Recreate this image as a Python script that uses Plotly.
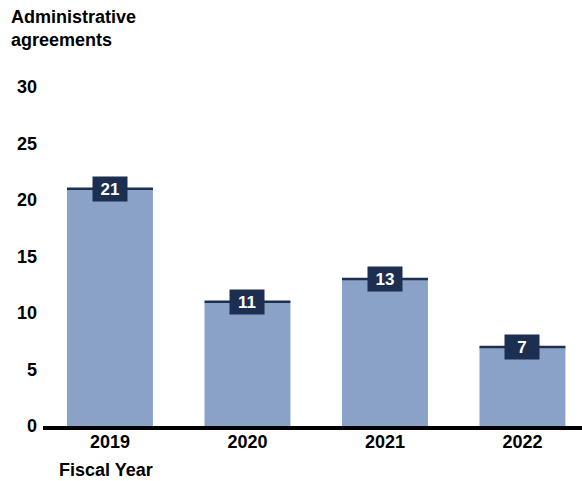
import plotly.graph_objects as go

years = ["2019", "2020", "2021", "2022"]
agreements = [21, 11, 13, 7]
y_ticks = [0, 5, 10, 15, 20, 25, 30]

BAR = "#8aa2c7"
NAVY = "#1c2f50"
FONT = "Liberation Sans, Arial, sans-serif"

W, H = 582, 481
ML, MR, MT, MB = 43, 0, 87, 55
plot_w = W - ML - MR
plot_h = H - MT - MB
X_RANGE = [-0.487, 3.433]
BAR_W = 0.625
bar_px = BAR_W * plot_w / (X_RANGE[1] - X_RANGE[0])

fig = go.Figure()
fig.add_trace(go.Bar(
    x=years, y=agreements, width=BAR_W,
    marker=dict(color=BAR, line=dict(width=0)),
    hoverinfo="skip",
))
# dark line on top of each bar (line-ew symbol length = 1.4 * size)
fig.add_trace(go.Scatter(
    x=years, y=agreements, mode="markers",
    marker=dict(symbol="line-ew", size=bar_px / 1.4, line=dict(color=NAVY, width=2.5)),
    hoverinfo="skip", cliponaxis=False,
))

annotations = []
for i, v in enumerate(agreements):
    annotations.append(dict(
        x=i, y=v, xref="x", yref="y", text=str(v),
        showarrow=False,
        font=dict(family=FONT, size=17, color="white", weight="bold"),
        bgcolor=NAVY, width=30, height=20, borderpad=2,
        xanchor="center", yanchor="middle",
    ))

annotations.append(dict(
    text="Administrative<br>agreements", xref="paper", yref="paper",
    x=(9 - ML) / plot_w, y=1 + (MT - 5) / plot_h,
    showarrow=False, align="left", xanchor="left", yanchor="top",
    font=dict(family=FONT, size=18, color="black", weight="bold"),
))
annotations.append(dict(
    text="Fiscal Year", xref="paper", yref="paper",
    x=(57 - ML) / plot_w, y=-(470 - (H - MB)) / plot_h,
    showarrow=False, xanchor="left", yanchor="middle",
    font=dict(family=FONT, size=18, color="black", weight="bold"),
))

fig.update_layout(
    width=W, height=H,
    margin=dict(l=ML, r=MR, t=MT, b=MB),
    paper_bgcolor="white", plot_bgcolor="white",
    showlegend=False,
    font=dict(family=FONT, size=18, color="black"),
    annotations=annotations,
)
fig.update_xaxes(
    type="category", range=X_RANGE,
    showline=True, linecolor="black", linewidth=4,
    showgrid=False, ticks="", ticklabelstandoff=-4,
    tickfont=dict(family=FONT, size=18, color="black", weight="bold"),
)
fig.update_yaxes(
    range=[0, 30], tickvals=y_ticks, showgrid=False, zeroline=False, showline=False,
    ticks="", ticklabelstandoff=5,
    tickfont=dict(family=FONT, size=18, color="black", weight="bold"),
)

fig.write_html(
    "out.html",
    config={"displayModeBar": False},
    post_script="document.body.style.margin='0';document.body.style.padding='0';",
)
